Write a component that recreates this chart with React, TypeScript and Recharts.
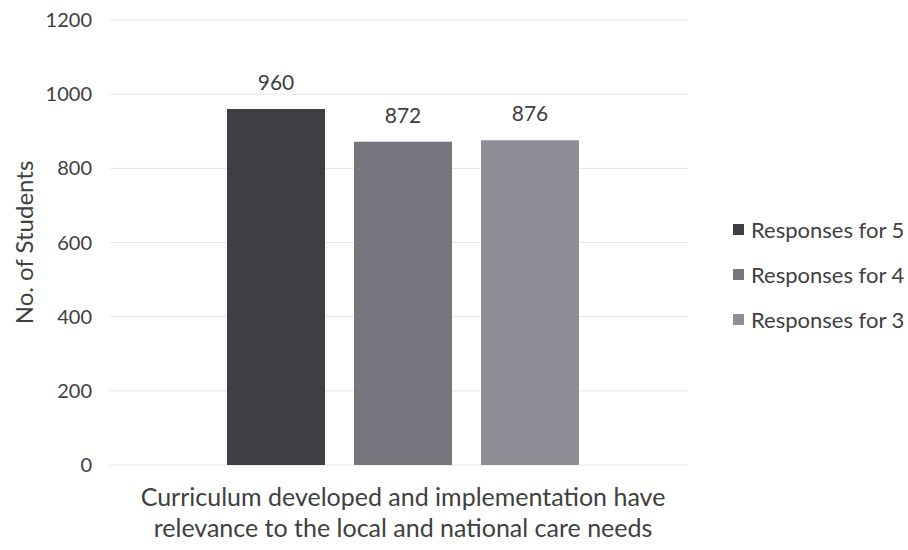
import { BarChart, Bar, XAxis, YAxis, CartesianGrid, Legend, LabelList } from 'recharts'

const categories = ['Curriculum developed and implementation have relevance to the local and national care needs']
// the category label as it wraps in the reference
const categoryLines = [['Curriculum developed and implementation have', 'relevance to the local and national care needs']]
const seriesNames = ['Responses for 5', 'Responses for 4', 'Responses for 3']
const seriesValues = [[960], [872], [876]]
const seriesColors = ['#3e3e45', '#76757d', '#8f8e97']
const yTicks = [0, 200, 400, 600, 800, 1000, 1200]

const data = categories.map((name, i) => {
  const row: Record<string, string | number> = { name }
  seriesNames.forEach((s, j) => { row[s] = seriesValues[j][i] })
  return row
})

const FONT = 'Lato, "Open Sans", sans-serif'
const TEXT = '#404040'

function CategoryTick({ x, y, payload }: any) {
  const idx = categories.indexOf(payload.value)
  const lines = idx >= 0 ? categoryLines[idx] : [payload.value]
  return (
    <text x={x} y={y} textAnchor="middle" fill={TEXT} style={{ fontFamily: FONT, fontSize: 25 }}>
      {lines.map((l: string, i: number) => (
        <tspan key={i} x={x} y={y + 33 + i * 31}>{l}</tspan>
      ))}
    </text>
  )
}

function LegendBox() {
  return (
    <div style={{ fontFamily: FONT, fontSize: 22, color: TEXT }}>
      {seriesNames.map((s, i) => (
        <div key={s} style={{ display: 'flex', alignItems: 'center', height: 45 }}>
          <span style={{ width: 11, height: 11, background: seriesColors[i], marginRight: 7, display: 'inline-block' }} />
          <span>{s}</span>
        </div>
      ))}
    </div>
  )
}

export default function App() {
  return (
    <div style={{ position: 'absolute', left: 0, top: 0, width: 908, height: 550, background: '#fff' }}>
      <BarChart
        width={908}
        height={550}
        data={data}
        margin={{ top: 20, right: 20, bottom: 0, left: 0 }}
        barSize={98}
        barGap={29}
      >
        <CartesianGrid vertical={false} stroke="#e3e6ee" />
        <XAxis
          dataKey="name"
          height={85}
          axisLine={false}
          tickLine={false}
          padding={{ left: 8, right: 0 }}
          tick={<CategoryTick />}
          interval={0}
        />
        <YAxis
          width={110}
          domain={[0, 1200]}
          ticks={yTicks}
          axisLine={false}
          tickLine={false}
          tickMargin={12}
          tick={{ fill: TEXT, fontSize: 20, fontFamily: FONT }}
          label={{
            value: 'No. of Students',
            angle: -90,
            position: 'insideLeft',
            dx: 19,
            style: { textAnchor: 'middle', fill: TEXT, fontSize: 24, fontFamily: FONT },
          }}
        />
        <Legend
          layout="vertical"
          align="right"
          verticalAlign="middle"
          content={<LegendBox />}
          wrapperStyle={{ width: 200, left: 733, top: 207 }}
        />
        {seriesNames.map((s, i) => (
          <Bar key={s} dataKey={s} fill={seriesColors[i]} isAnimationActive={false}>
            <LabelList dataKey={s} position="top" offset={19} fill={TEXT} style={{ fontFamily: FONT, fontSize: 21 }} />
          </Bar>
        ))}
      </BarChart>
    </div>
  )
}
